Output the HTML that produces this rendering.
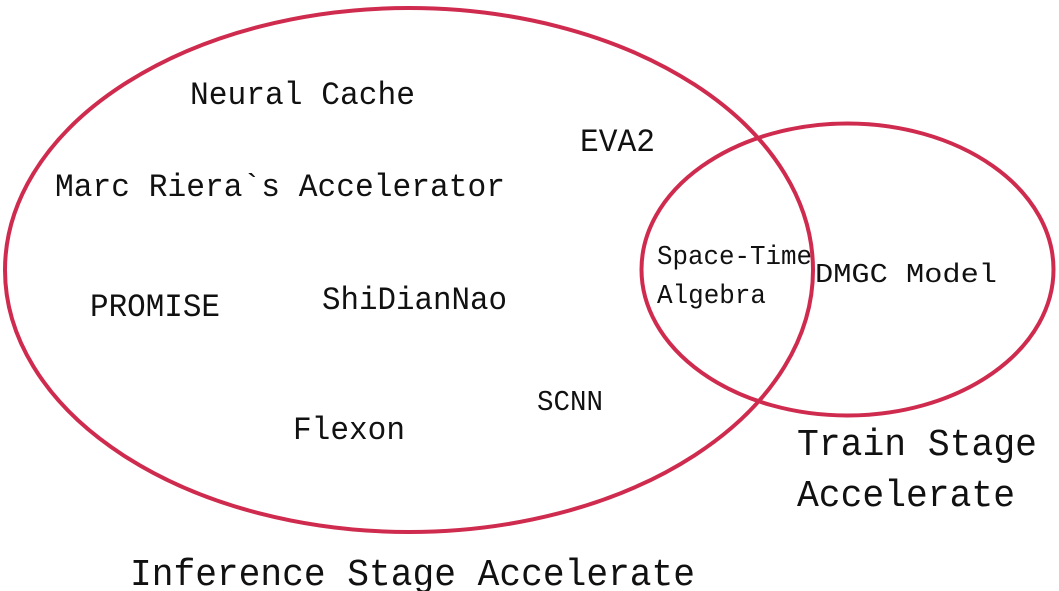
<!DOCTYPE html>
<html><head><meta charset="utf-8"><style>
html,body{margin:0;padding:0;background:#fff;}
svg{display:block}
text{font-family:"Liberation Mono","Noto Serif CJK SC",monospace;fill:#111;}
</style></head><body>
<svg width="1059" height="591" viewBox="0 0 1059 591" xmlns="http://www.w3.org/2000/svg">
<rect width="1059" height="591" fill="#fff"/>
<ellipse cx="409" cy="270" rx="404" ry="262" fill="none" stroke="#cf2b4e" stroke-width="4"/>
<ellipse cx="847.5" cy="269.5" rx="206" ry="146" fill="none" stroke="#cf2b4e" stroke-width="4"/>
<text x="190" y="104" font-size="32" textLength="225" lengthAdjust="spacingAndGlyphs">Neural Cache</text>
<text x="580" y="151" font-size="32" textLength="75" lengthAdjust="spacingAndGlyphs">EVA2</text>
<text x="55" y="196" font-size="32" textLength="450" lengthAdjust="spacingAndGlyphs">Marc Riera`s Accelerator</text>
<text x="90" y="316" font-size="32" textLength="130" lengthAdjust="spacingAndGlyphs">PROMISE</text>
<text x="322" y="309" font-size="32" textLength="185" lengthAdjust="spacingAndGlyphs">ShiDianNao</text>
<text x="293" y="439" font-size="32" textLength="112" lengthAdjust="spacingAndGlyphs">Flexon</text>
<text x="537" y="410" font-size="29" textLength="66" lengthAdjust="spacingAndGlyphs">SCNN</text>
<text x="657" y="264" font-size="27" textLength="155" lengthAdjust="spacingAndGlyphs">Space-Time</text>
<text x="657" y="303" font-size="27" textLength="109" lengthAdjust="spacingAndGlyphs">Algebra</text>
<text x="815" y="282" font-size="27" textLength="182" lengthAdjust="spacingAndGlyphs">DMGC Model</text>
<text x="797" y="455" font-size="38" textLength="240" lengthAdjust="spacingAndGlyphs">Train Stage</text>
<text x="797" y="506" font-size="38" textLength="218" lengthAdjust="spacingAndGlyphs">Accelerate</text>
<text x="130" y="585" font-size="38" textLength="565" lengthAdjust="spacingAndGlyphs">Inference Stage Accelerate</text>
</svg>
</body></html>
